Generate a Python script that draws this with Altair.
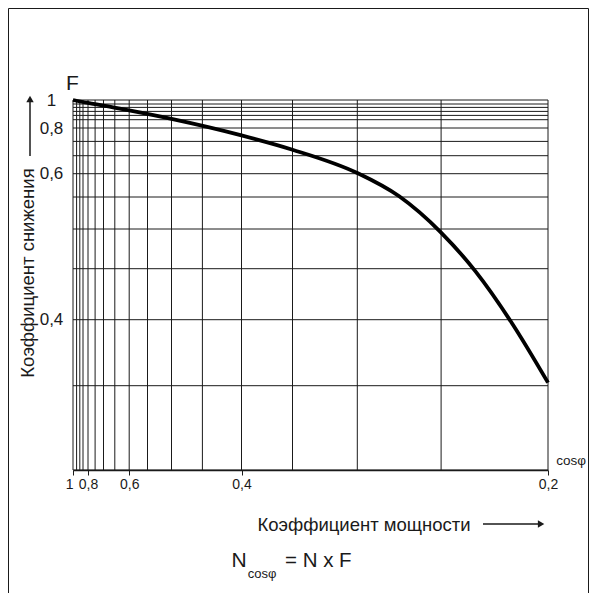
import altair as alt
import pandas as pd

# vertical grid lines (cos phi values) and their positions
X_GRID = [1.0, 0.95, 0.9, 0.85, 0.8, 0.75, 0.7, 0.65, 0.6, 0.55, 0.5, 0.45, 0.4, 0.35, 0.3, 0.25, 0.2]
X_POS = [0, 3.6, 6.8, 10, 15, 22.1, 30.5, 41.8, 56.2, 74.5, 98.5, 129.4, 168.5, 219.5, 284.3, 368.1, 475]
X_LABELS = [1.0, 0.8, 0.6, 0.4, 0.2]

# horizontal grid lines (F values) and their positions
Y_GRID = [1.0, 0.97, 0.94, 0.91, 0.88, 0.85, 0.8, 0.75, 0.7, 0.6, 0.55, 0.5, 0.45, 0.4, 0.35, 0.3]
Y_POS = [0, 4, 7.4, 11.4, 15.4, 19.7, 28, 41.4, 55.7, 73.7, 97, 129, 168.7, 219.7, 285.7, 370]
Y_LABELS = [1.0, 0.8, 0.6, 0.4]

# reduction factor curve
CURVE_COS = [1.0, 0.8, 0.7, 0.6, 0.5, 0.4, 0.35, 0.3, 0.275, 0.25, 0.234, 0.217, 0.2]
CURVE_F = [1.0, 0.978, 0.956, 0.9175, 0.8556, 0.7724, 0.721, 0.6039, 0.5515, 0.4955, 0.4476, 0.3977, 0.3523]

W = 475
H = 370
FONT = "Liberation Sans"
INK = "#1a1a1a"

xs = alt.Scale(domain=X_GRID, range=X_POS, zero=False, nice=False)
ys = alt.Scale(domain=Y_GRID, range=Y_POS, zero=False, nice=False)

label_expr = "datum.value == 1 ? '1' : replace(format(datum.value, '.1f'), '.', ',')"

grid_x = pd.DataFrame({"cos": X_GRID})
grid_y = pd.DataFrame({"F": Y_GRID})
curve = pd.DataFrame({"cos": CURVE_COS, "F": CURVE_F})

vrules = alt.Chart(grid_x).mark_rule(color=INK, strokeWidth=1).encode(
    x=alt.X("cos:Q", scale=xs,
            axis=alt.Axis(values=X_LABELS, labelExpr=label_expr, grid=False,
                          title=None, tickSize=5, tickColor=INK, domainColor=INK,
                          domainWidth=1.5, labelFont=FONT, labelFontSize=14,
                          labelColor=INK, labelPadding=2, labelFlush=False,
                          labelOverlap=False,
                          labelAlign=alt.condition("datum.value == 1",
                                                   alt.value("right"), alt.value("center"))))
)

hrules = alt.Chart(grid_y).mark_rule(color=INK, strokeWidth=1).encode(
    y=alt.Y("F:Q", scale=ys,
            axis=alt.Axis(values=Y_LABELS, labelExpr=label_expr, grid=False,
                          title=None, tickSize=0, domain=False, labelFont=FONT,
                          labelFontSize=17, labelColor=INK, labelAlign="center",
                          labelPadding=22, labelBaseline="middle", labelOverlap=False,
                          labelFlush=False))
)

line = alt.Chart(curve).mark_line(color="black", strokeWidth=3.8, interpolate="monotone").encode(
    x=alt.X("cos:Q", scale=xs),
    y=alt.Y("F:Q", scale=ys),
)

ann = pd.DataFrame({"t": ["x"]})

def txt(text, x, y, size, angle=0, align="center", baseline="middle"):
    return alt.Chart(ann).mark_text(text=text, font=FONT, fontSize=size, color=INK,
                                    angle=angle, align=align, baseline=baseline).encode(
        x=alt.value(x), y=alt.value(y))

def seg(x1, y1, x2, y2, w=1.5):
    return alt.Chart(ann).mark_rule(color=INK, strokeWidth=w).encode(
        x=alt.value(x1), y=alt.value(y1), x2=alt.value(x2), y2=alt.value(y2))

def head(x, y, angle):
    return alt.Chart(ann).mark_point(shape="triangle", filled=True, color=INK,
                                     size=55, opacity=1, angle=angle).encode(
        x=alt.value(x), y=alt.value(y))

ox, oy = 73.0, 100.0  # plot origin on page

parts = [
    # frame around the figure
    seg(8.5 - ox, 8.5 - oy, 8.5 - ox, 593 - oy, 1),
    seg(588.5 - ox, 8.5 - oy, 588.5 - ox, 593 - oy, 1),
    seg(8.5 - ox, 8.5 - oy, 588.5 - ox, 8.5 - oy, 1),
    txt("F", 72.5 - ox, 84 - oy, 21),
    txt("Коэффициент снижения", 28 - ox, 273 - oy, 18.5, angle=270),
    seg(30 - ox, 156 - oy, 30 - ox, 102 - oy),
    head(30 - ox, 100 - oy, 0),
    txt("cosφ", 571 - ox, 461 - oy, 13.5),
    txt("Коэффициент мощности", 364 - ox, 525 - oy, 18.5),
    seg(483 - ox, 524 - oy, 540 - ox, 524 - oy),
    head(540 - ox, 524 - oy, 90),
    txt("N", 239 - ox, 561 - oy, 21),
    txt("cosφ", 262 - ox, 574 - oy, 13),
    txt("= N x F", 285 - ox, 561 - oy, 20.5, align="left"),
]

chart = alt.layer(vrules, hrules, line, *parts).properties(
    width=W, height=H,
    padding={"left": 65, "top": 92, "right": 41, "bottom": 123},
    autosize=alt.AutoSizeParams(type="none"),
).configure_view(stroke=None)

chart.save("out.html", embed_options={"renderer": "svg", "actions": False})
